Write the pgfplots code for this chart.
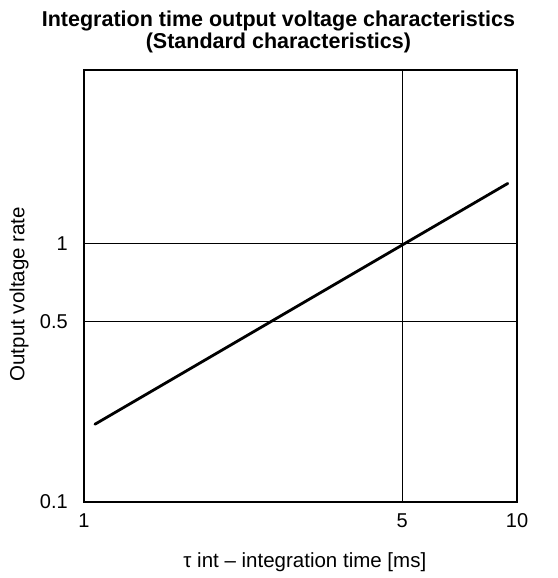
\documentclass[border=0pt]{standalone}
\usepackage{fontspec}
\setmainfont{Liberation Sans}
\usepackage{pgfplots}
\pgfplotsset{compat=1.18}
\begin{document}
\begin{tikzpicture}
\begin{axis}[
    scale only axis,
    width=433pt, height=432pt,
    xmode=log, ymode=log,
    xmin=1, xmax=10,
    ymin=0.1, ymax=4.7,
    % the 5 ms line sits a little right of its true log place in the original
    xtick={1,5.43,10}, xticklabels={1,5,10},
    ytick={0.1,0.5,1}, yticklabels={0.1,0.5,1},
    minor xtick={}, minor ytick={},
    major tick length=0pt, minor tick length=0pt,
    xmajorgrids, ymajorgrids,
    major grid style={black, line width=0.8pt},
    axis line style={black, line width=1.8pt},
    tick label style={font=\fontsize{20}{24}\selectfont},
    xticklabel style={anchor=base, yshift=-25pt},
    yticklabel style={anchor=east, xshift=-12.7pt},
    label style={font=\fontsize{20.5}{24}\selectfont},
    xlabel={τ int – integration time [ms]},
    xlabel style={at={(axis description cs:0.51,-0.1505)}, anchor=base},
    ylabel={Output voltage rate},
    ylabel style={at={(axis description cs:-0.15,0.481)}, anchor=center},
    title={Integration time output voltage characteristics\\(Standard characteristics)},
    title style={at={(axis description cs:0.449,1.025)}, anchor=south,
                 inner sep=0pt, align=center,
                 font=\fontsize{21.5}{22.5}\selectfont\bfseries},
]
\addplot[black, line width=2.8pt, line cap=round] coordinates {(1.06,0.20) (9.52,1.71)};
\end{axis}
\path[use as bounding box] (-84pt,-76pt) rectangle (473pt,502pt);
\end{tikzpicture}
\end{document}
